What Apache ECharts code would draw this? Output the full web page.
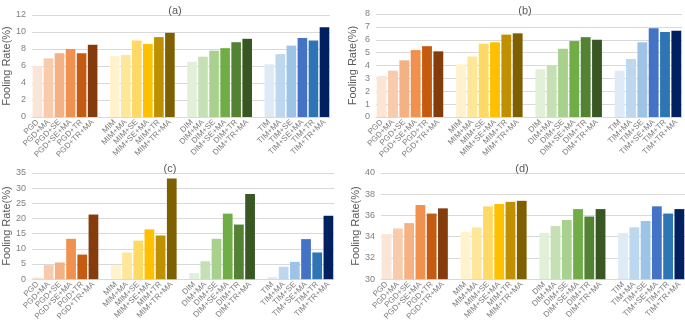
<!DOCTYPE html>
<html>
<head>
<meta charset="utf-8">
<script src="https://cdn.jsdelivr.net/npm/echarts@6/dist/echarts.min.js"></script>
<style>
html, body { margin: 0; padding: 0; background: #fff; }
#chart { width: 685px; height: 323px; }
</style>
</head>
<body>
<div id="chart"></div>
<script>
var methods = ['PGD', 'MIM', 'DIM', 'TIM']
var suffixes = ['', '+MA', '+SE', '+SE+MA', '+TR', '+TR+MA']

var valuesA = [6.0, 6.9, 7.5, 8.0, 7.5, 8.5,
               7.2, 7.3, 9.0, 8.6, 9.4, 9.9,
               6.5, 7.1, 7.8, 8.1, 8.8, 9.2,
               6.2, 7.4, 8.4, 9.3, 9.0, 10.55]
var valuesB = [3.2, 3.6, 4.4, 5.2, 5.5, 5.1,
               4.1, 4.7, 5.7, 5.8, 6.4, 6.5,
               3.7, 4.0, 5.3, 5.9, 6.2, 6.0,
               3.6, 4.5, 5.8, 6.9, 6.6, 6.7]
var valuesC = [0.6, 4.6, 5.5, 13.3, 8.1, 21.3,
               4.6, 8.8, 12.7, 16.4, 14.4, 33.2,
               2.0, 5.9, 13.3, 21.6, 18.0, 28.1,
               0.7, 4.1, 5.7, 13.2, 8.8, 20.9]
var valuesD = [34.25, 34.77, 35.28, 36.98, 36.18, 36.67,
               34.46, 34.88, 36.86, 37.08, 37.28, 37.38,
               34.36, 35.0, 35.57, 36.6, 35.9, 36.6,
               34.36, 34.88, 35.48, 36.86, 36.18, 36.6]

var colors = [
    ['#fbe5d6', '#f8cbad', '#f4b183', '#f0914f', '#c55a11', '#843c0c'],
    ['#fff2cc', '#ffe699', '#ffd966', '#ffc000', '#bf9000', '#7f6000'],
    ['#e2f0d9', '#c5e0b4', '#a9d18e', '#70ad47', '#548235', '#385723'],
    ['#deebf7', '#bdd7ee', '#9dc3e6', '#4472c4', '#2e75b6', '#002060']
]

// categories with an empty slot between the method groups
var categories = []
methods.forEach(function (m, gi) {
    suffixes.forEach(function (s) { categories.push(m + s) })
    if (gi < methods.length - 1) categories.push(' '.repeat(gi + 1))
})

function buildData(vals) {
    var out = []
    methods.forEach(function (m, gi) {
        suffixes.forEach(function (s, si) {
            out.push({ value: vals[gi * 6 + si], itemStyle: { color: colors[gi][si] } })
        })
        if (gi < methods.length - 1) out.push('-')
    })
    return out
}

var gray = '#7f7f7f'
var font = 'Liberation Sans'

var panels = [
    { title: '(a)', tx: 170, ty: 0, grid: { left: 29, right: 355, top: 15, bottom: 206 }, min: 0, max: 12, interval: 2, vals: valuesA },
    { title: '(b)', tx: 520, ty: 0, grid: { left: 376, right: 3, top: 14, bottom: 206 }, min: 0, max: 8, interval: 1, vals: valuesB },
    { title: '(c)', tx: 165, ty: 158, grid: { left: 29, right: 351, top: 173, bottom: 42 }, min: 0, max: 35, interval: 5, vals: valuesC },
    { title: '(d)', tx: 517, ty: 158, grid: { left: 381, right: 0, top: 173, bottom: 42 }, min: 30, max: 40, interval: 2, vals: valuesD }
]

var chart = echarts.init(document.getElementById('chart'))
var option = {
    animation: false,
    backgroundColor: '#fff',
    textStyle: { fontFamily: font },
    title: panels.map(function (p) {
        return {
            text: p.title, left: p.tx, top: p.ty, textAlign: 'center',
            textStyle: { fontSize: 11, fontWeight: 'normal', color: '#595959', fontFamily: font }
        }
    }),
    grid: panels.map(function (p) { return p.grid }),
    xAxis: panels.map(function (p, i) {
        return {
            type: 'category', gridIndex: i, data: categories,
            axisTick: { show: false },
            axisLine: { lineStyle: { color: '#d9d9d9' } },
            axisLabel: { interval: 0, rotate: 45, fontSize: 8, color: gray, margin: 4, fontFamily: font }
        }
    }),
    yAxis: panels.map(function (p, i) {
        return {
            type: 'value', gridIndex: i, min: p.min, max: p.max, interval: p.interval,
            name: 'Fooling Rate(%)', nameLocation: 'middle', nameGap: 18,
            nameTextStyle: { fontSize: 11, color: '#595959', fontFamily: font },
            axisLine: { show: false }, axisTick: { show: false },
            axisLabel: { fontSize: 9, color: gray, margin: 6, fontFamily: font },
            splitLine: { lineStyle: { color: '#d9d9d9' } }
        }
    }),
    series: panels.map(function (p, i) {
        return {
            type: 'bar', xAxisIndex: i, yAxisIndex: i,
            barWidth: '87%',
            data: buildData(p.vals)
        }
    })
}
chart.setOption(option)
</script>
</body>
</html>
